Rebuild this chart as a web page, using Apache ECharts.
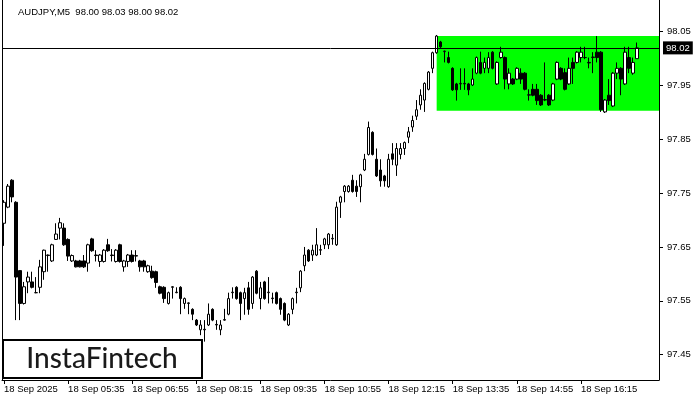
<!DOCTYPE html>
<html>
<head>
<meta charset="utf-8">
<script src="https://cdn.jsdelivr.net/npm/echarts/dist/echarts.min.js"></script>
<style>
html,body{margin:0;padding:0;background:#fff;}
#c{width:700px;height:400px;}
</style>
</head>
<body>
<div id="c"></div>
<script>
const symbolName = 'AUDJPY,M5';
const lastOHLC = ['98.00', '98.03', '98.00', '98.02'];
const tickLabels = ['18 Sep 2025','18 Sep 05:35','18 Sep 06:55','18 Sep 08:15','18 Sep 09:35','18 Sep 10:55','18 Sep 12:15','18 Sep 13:35','18 Sep 14:55','18 Sep 16:15'];
const priceTicks = [97.45, 97.55, 97.65, 97.75, 97.85, 97.95, 98.05];
const currentPrice = 98.02;
const zoneStartBar = 108;
const zoneTop = 98.042;
const zoneBottom = 97.903;
const totalSlots = 164;

const opens = [97.694,97.724,97.774,97.733,97.606,97.545,97.585,97.585,97.565,97.575,
97.604,97.634,97.624,97.664,97.685,97.685,97.664,97.624,97.624,97.624,
97.624,97.620,97.665,97.635,97.623,97.623,97.654,97.635,97.623,97.654,
97.613,97.623,97.635,97.633,97.624,97.624,97.604,97.605,97.604,97.576,
97.575,97.545,97.575,97.565,97.575,97.545,97.545,97.534,97.514,97.496,
97.497,97.505,97.534,97.506,97.496,97.514,97.525,97.565,97.575,97.565,
97.554,97.574,97.545,97.605,97.554,97.585,97.565,97.554,97.565,97.554,
97.545,97.505,97.534,97.565,97.574,97.615,97.644,97.635,97.635,97.644,
97.654,97.654,97.665,97.654,97.733,97.753,97.753,97.774,97.763,97.762,
97.793,97.822,97.863,97.813,97.793,97.782,97.762,97.823,97.802,97.822,
97.833,97.854,97.873,97.893,97.914,97.923,97.943,97.982,98.011,98.031,
98.013,98.002,97.982,97.953,97.953,97.954,97.953,97.951,97.973,97.993,
97.982,97.982,98.012,97.953,98.002,98.002,97.953,97.962,97.962,97.973,
97.973,97.932,97.943,97.943,97.932,97.923,97.932,97.923,97.962,97.982,
97.974,97.953,97.993,97.993,98.002,98.002,97.993,98.002,98.012,98.012,
97.901,97.932,97.912,97.973,97.982,97.953,98.002,97.973,98.000];
const closes = [97.733,97.763,97.743,97.594,97.545,97.576,97.594,97.575,97.565,97.613,
97.644,97.635,97.654,97.674,97.695,97.654,97.633,97.634,97.613,97.613,
97.613,97.654,97.643,97.634,97.635,97.644,97.643,97.634,97.644,97.623,
97.624,97.635,97.623,97.634,97.613,97.613,97.615,97.593,97.584,97.564,
97.554,97.565,97.576,97.566,97.554,97.554,97.546,97.525,97.505,97.505,
97.496,97.525,97.514,97.505,97.505,97.515,97.554,97.566,97.554,97.545,
97.565,97.534,97.594,97.564,97.574,97.554,97.566,97.555,97.545,97.534,
97.514,97.525,97.554,97.566,97.605,97.635,97.624,97.644,97.654,97.645,
97.665,97.674,97.666,97.724,97.743,97.763,97.763,97.753,97.753,97.784,
97.813,97.872,97.822,97.782,97.773,97.773,97.813,97.813,97.833,97.833,
97.844,97.864,97.885,97.905,97.932,97.954,97.975,98.011,98.042,98.022,
98.014,97.993,97.942,97.942,97.954,97.953,97.942,97.962,98.002,97.973,
97.993,98.002,97.982,97.993,98.012,97.962,97.973,97.953,97.982,97.962,
97.943,97.933,97.932,97.922,97.914,97.924,97.914,97.953,97.993,97.962,
97.943,97.982,97.982,98.012,98.012,98.002,97.992,98.003,98.002,97.905,
97.923,97.922,97.973,97.982,97.962,98.012,97.982,97.993,98.020];
const lows = [97.652,97.722,97.733,97.514,97.514,97.543,97.564,97.573,97.564,97.564,
97.589,97.604,97.622,97.663,97.664,97.652,97.624,97.622,97.612,97.612,
97.611,97.604,97.641,97.623,97.613,97.621,97.641,97.623,97.621,97.621,
97.604,97.613,97.621,97.623,97.604,97.604,97.602,97.591,97.574,97.562,
97.546,97.543,97.554,97.564,97.525,97.535,97.525,97.514,97.503,97.486,
97.474,97.503,97.512,97.496,97.486,97.513,97.523,97.554,97.552,97.514,
97.524,97.524,97.535,97.562,97.534,97.552,97.545,97.545,97.543,97.524,
97.512,97.503,97.525,97.545,97.566,97.605,97.622,97.624,97.633,97.635,
97.646,97.646,97.654,97.652,97.704,97.733,97.751,97.751,97.743,97.733,
97.791,97.820,97.820,97.780,97.762,97.762,97.760,97.802,97.782,97.813,
97.821,97.843,97.864,97.886,97.905,97.901,97.941,97.973,98.009,98.020,
97.993,97.991,97.940,97.922,97.942,97.942,97.932,97.949,97.971,97.971,
97.973,97.973,97.980,97.951,98.000,97.943,97.943,97.951,97.960,97.953,
97.941,97.922,97.930,97.914,97.912,97.921,97.912,97.921,97.960,97.960,
97.941,97.951,97.953,97.991,97.993,97.999,97.982,97.973,97.993,97.901,
97.899,97.914,97.910,97.962,97.932,97.951,97.973,97.970,98.000];
const highs = [97.737,97.767,97.776,97.735,97.606,97.585,97.604,97.604,97.594,97.626,
97.645,97.636,97.656,97.694,97.704,97.694,97.666,97.636,97.626,97.626,
97.635,97.656,97.667,97.644,97.637,97.646,97.665,97.646,97.646,97.656,
97.626,97.637,97.644,97.644,97.626,97.626,97.617,97.615,97.606,97.578,
97.577,97.567,97.577,97.575,97.577,97.556,97.547,97.536,97.516,97.514,
97.514,97.545,97.536,97.514,97.514,97.535,97.565,97.575,97.577,97.567,
97.574,97.585,97.596,97.607,97.585,97.587,97.594,97.565,97.567,97.556,
97.547,97.527,97.556,97.574,97.607,97.650,97.646,97.654,97.685,97.654,
97.667,97.676,97.674,97.734,97.745,97.765,97.765,97.784,97.774,97.786,
97.823,97.883,97.865,97.833,97.813,97.784,97.823,97.843,97.843,97.843,
97.846,97.873,97.894,97.923,97.943,97.956,97.977,98.013,98.044,98.033,
98.015,98.013,97.984,97.955,97.982,97.982,97.955,97.982,98.004,98.013,
98.002,98.012,98.014,97.995,98.022,98.004,97.982,97.964,97.984,97.982,
97.975,97.943,97.953,97.953,97.934,97.993,97.934,97.955,97.995,97.984,
97.982,98.002,98.002,98.014,98.022,98.022,98.002,98.012,98.042,98.014,
97.925,97.962,97.975,97.993,97.984,98.022,98.022,98.002,98.030];

// category slots (5-minute bars starting 04:15)
const categories = [];
for (let i = 0; i < totalSlots; i++) {
  const m = 255 + i * 5;
  const hh = String(Math.floor(m / 60) % 24).padStart(2, '0');
  const mm = String(m % 60).padStart(2, '0');
  categories.push('18 Sep ' + hh + ':' + mm);
}
const candles = opens.map((o, i) => [o, closes[i], lows[i], highs[i]]);

const FONT = 'Liberation Sans';
const showTick = (idx) => idx % 16 === 0 && idx / 16 < tickLabels.length;

const chart = echarts.init(document.getElementById('c'), null, {renderer: 'canvas'});
chart.setOption({
  animation: false,
  backgroundColor: '#ffffff',
  grid: {left: 2, right: 41, top: 0, bottom: 20, containLabel: false},
  xAxis: {
    type: 'category',
    data: categories,
    boundaryGap: true,
    axisLine: {show: true, lineStyle: {color: '#000', width: 1}},
    axisTick: {show: true, interval: (i) => showTick(i), alignWithLabel: true, length: 4, lineStyle: {color: '#000'}},
    axisLabel: {
      interval: (i) => showTick(i),
      formatter: (v, i) => showTick(i) ? tickLabels[i / 16] : '',
      align: 'left', margin: 4, color: '#000', fontSize: 9.5, fontFamily: FONT
    },
    splitLine: {show: false}
  },
  yAxis: [{
    type: 'value',
    position: 'right',
    min: 97.4027, max: 98.109,
    axisLine: {show: true, lineStyle: {color: '#000', width: 1}},
    axisTick: {show: true, customValues: priceTicks, length: 4, lineStyle: {color: '#000'}},
    axisLabel: {show: true, customValues: priceTicks, formatter: (v) => v.toFixed(2), margin: 8, color: '#000', fontSize: 9.5, fontFamily: FONT},
    splitLine: {show: false}
  }, {
    type: 'value',
    position: 'left',
    min: 97.4027, max: 98.109,
    axisLine: {show: true, lineStyle: {color: '#000', width: 1}},
    axisTick: {show: false},
    axisLabel: {show: false},
    splitLine: {show: false}
  }],
  series: [{
    type: 'custom',
    z: 1,
    silent: true,
    data: [[zoneStartBar, zoneTop, zoneBottom]],
    renderItem: function (params, api) {
      const p1 = api.coord([api.value(0), api.value(1)]);
      const p2 = api.coord([api.value(0), api.value(2)]);
      const right = params.coordSys.x + params.coordSys.width;
      return {type: 'rect', shape: {x: p1[0], y: p1[1], width: right - p1[0], height: p2[1] - p1[1]}, style: {fill: '#00ff00'}};
    }
  }, {
    type: 'candlestick',
    z: 3,
    data: candles,
    barWidth: 3,
    itemStyle: {color: '#ffffff', color0: '#000000', borderColor: '#000000', borderColor0: '#000000', borderWidth: 1},
    markLine: {
      silent: true,
      symbol: 'none',
      lineStyle: {color: '#000', width: 1, type: 'solid'},
      label: {show: true, position: 'end', formatter: currentPrice.toFixed(2), color: '#fff', backgroundColor: '#000', padding: [2, 3, 1, 3], distance: 4, fontSize: 9.5, fontFamily: FONT},
      data: [{yAxis: currentPrice}]
    }
  }],
  graphic: [{
    type: 'text', left: 18, top: 7, z: 10,
    style: {text: symbolName + '  ' + lastOHLC.join(' '), fill: '#000', font: '9.5px "' + FONT + '"'}
  }, {
    type: 'rect', z: 20,
    shape: {x: 3, y: 340, width: 199, height: 38},
    style: {fill: '#fff', stroke: '#000', lineWidth: 2}
  }, {
    type: 'text', z: 21, x: 102, y: 359,
    style: {text: 'InstaFintech', fill: '#1a1a1a', font: '500 28px Lato', textAlign: 'center', textVerticalAlign: 'middle'}
  }]
});
</script>
</body>
</html>
